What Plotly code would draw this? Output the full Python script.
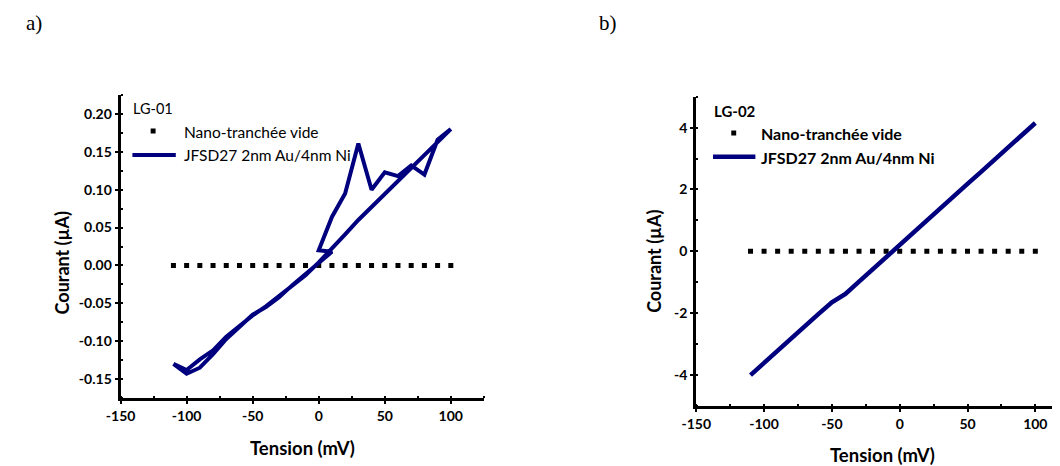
import plotly.graph_objects as go

# ---------------- data ----------------
# Panel a) LG-01 : hysteresis loop (mV, µA)
tension_a = [-110, -100, -90, -80, -70, -60, -50, -40, -30, -20, -10, 0, 10,
             0, 10, 20, 30, 40, 50, 60, 70, 80, 90, 100,
             90, 80, 70, 60, 50, 40, 30, 20, 10, 0, -10, -20, -30, -40, -50,
             -60, -70, -80, -90, -100, -110]
courant_a = [-0.130, -0.143, -0.135, -0.117, -0.097, -0.081, -0.065, -0.055, -0.042, -0.026, -0.011, 0.004, 0.018,
             0.020, 0.064, 0.095, 0.161, 0.100, 0.123, 0.118, 0.132, 0.120, 0.166, 0.180,
             0.163, 0.146, 0.129, 0.112, 0.095, 0.078, 0.060, 0.041, 0.022, 0.004, -0.013, -0.027, -0.041, -0.054, -0.066,
             -0.080, -0.094, -0.112, -0.124, -0.138, -0.130]

# Panel b) LG-02
tension_b = [-110, -100, -90, -80, -70, -60, -50, -40, -30, -20, -10,
             0, 10, 20, 30, 40, 50, 60, 70, 80, 90, 100]
courant_b = [-4.00, -3.60, -3.21, -2.82, -2.42, -2.03, -1.65, -1.38, -0.98, -0.58, -0.18,
             0.22, 0.62, 1.01, 1.40, 1.79, 2.18, 2.57, 2.97, 3.36, 3.76, 4.15]

# Empty nano-trench (both panels)
tension_vide = [-110, -100, -90, -80, -70, -60, -50, -40, -30, -20, -10,
                0, 10, 20, 30, 40, 50, 60, 70, 80, 90, 100]
courant_vide = [0, 0, 0, 0, 0, 0, 0, 0, 0, 0, 0,
                0, 0, 0, 0, 0, 0, 0, 0, 0, 0, 0]

x_ticks = [-150, -100, -50, 0, 50, 100]
y_ticks_a = [-0.15, -0.10, -0.05, 0.00, 0.05, 0.10, 0.15, 0.20]
y_ticks_b = [-4, -2, 0, 2, 4]

serie_vide = "Nano-tranchée vide"
serie_jfsd = "JFSD27 2nm Au/4nm Ni"

# ---------------- styling ----------------
# the page body adds an 8px margin; the figure fills the rest of the 1060x466 view
OFF = 8
W, H = 1060 - OFF, 466 - OFF
NAVY = "#00007f"
FONT = "Lato"

def px(x):
    return (x - OFF) / W

def py(y):
    return 1 - (y - OFF) / H

fig = go.Figure()

fig.add_trace(go.Scatter(x=tension_vide, y=courant_vide, mode="markers",
                         marker=dict(symbol="square", size=5, color="black"),
                         xaxis="x", yaxis="y", showlegend=False, name=serie_vide))
fig.add_trace(go.Scatter(x=tension_a, y=courant_a, mode="lines",
                         line=dict(color=NAVY, width=4),
                         xaxis="x", yaxis="y", showlegend=False, name=serie_jfsd))
fig.add_trace(go.Scatter(x=tension_vide, y=courant_vide, mode="markers",
                         marker=dict(symbol="square", size=5, color="black"),
                         xaxis="x2", yaxis="y2", showlegend=False, name=serie_vide))
fig.add_trace(go.Scatter(x=tension_b, y=courant_b, mode="lines",
                         line=dict(color=NAVY, width=4.5),
                         xaxis="x2", yaxis="y2", showlegend=False, name=serie_jfsd))

tickfont = dict(family=FONT, size=14, color="black", weight="bold")
common_axis = dict(showline=True, linewidth=3, linecolor="black", showgrid=False,
                   zeroline=False, ticks="outside", ticklen=3, tickwidth=2,
                   tickcolor="black", tickfont=tickfont)
minor_style = dict(ticks="inside", ticklen=2, tickwidth=2, tickcolor="black")

fig.update_layout(
    width=W, height=H, autosize=False,
    margin=dict(l=0, r=0, t=0, b=0),
    paper_bgcolor="white", plot_bgcolor="white",
    xaxis=dict(domain=[px(107), px(475.5)], range=[-150, 125], anchor="y",
               tickvals=x_ticks, ticktext=[str(v) for v in x_ticks],
               minor=dict(dtick=25, tick0=-150, **minor_style),
               **common_axis),
    yaxis=dict(domain=[py(398), py(95)], range=[-0.175, 0.225], anchor="x",
               tickvals=y_ticks_a, ticktext=["%.2f" % v for v in y_ticks_a],
               minor=dict(dtick=0.025, tick0=0, **minor_style),
               **common_axis),
    xaxis2=dict(domain=[px(691), 1.0], range=[-150, 118.2], anchor="y2",
                tickvals=x_ticks, ticktext=[str(v) for v in x_ticks],
                minor=dict(dtick=25, tick0=-150, **minor_style),
                **common_axis),
    yaxis2=dict(domain=[py(406), py(96.7)], range=[-5, 5], anchor="x2",
                tickvals=y_ticks_b, ticktext=[str(v) for v in y_ticks_b],
                minor=dict(dtick=1, tick0=0, **minor_style),
                **common_axis),
)

ann = []
shapes = []

def text(x, y, s, size, bold=False, xanchor="center", angle=0, family=FONT):
    ann.append(dict(x=px(x), y=py(y), xref="paper", yref="paper", text=s,
                    showarrow=False, xanchor=xanchor, yanchor="middle", textangle=angle,
                    font=dict(family=family, size=size, color="black",
                              weight="bold" if bold else "normal")))

# panel labels
text(9, 23, "a)", 21, xanchor="left", family="Liberation Serif")
text(590, 23, "b)", 21, xanchor="left", family="Liberation Serif")

# axis titles
text(292, 448, "Tension (mV)", 18.5, bold=True)
text(48, 263, "Courant (µA)", 18, bold=True, angle=-90)
text(880, 455, "Tension (mV)", 18.5, bold=True)
text(648, 261, "Courant (µA)", 18, bold=True, angle=-90)

# legend a
text(118, 108, "LG-01", 14.5, xanchor="left")
shapes.append(dict(type="rect", xref="paper", yref="paper",
                   x0=px(137.5), x1=px(142.5), y0=py(133.5), y1=py(128.5),
                   fillcolor="black", line=dict(width=0)))
text(169, 132, serie_vide, 15.5, xanchor="left")
shapes.append(dict(type="line", xref="paper", yref="paper",
                   x0=px(119), x1=px(163), y0=py(155), y1=py(155),
                   line=dict(color=NAVY, width=4)))
text(169, 155, serie_jfsd, 15.5, xanchor="left")

# legend b
text(707, 111, "LG-02", 15, bold=True, xanchor="left")
shapes.append(dict(type="rect", xref="paper", yref="paper",
                   x0=px(726.5), x1=px(731.5), y0=py(135.5), y1=py(130.5),
                   fillcolor="black", line=dict(width=0)))
text(755, 133, serie_vide, 16, bold=True, xanchor="left")
shapes.append(dict(type="line", xref="paper", yref="paper",
                   x0=px(708), x1=px(751), y0=py(156.7), y1=py(156.7),
                   line=dict(color=NAVY, width=4.5)))
text(755, 157, serie_jfsd, 16, bold=True, xanchor="left")

fig.update_layout(annotations=ann, shapes=shapes)

fig.write_html("out.html")
